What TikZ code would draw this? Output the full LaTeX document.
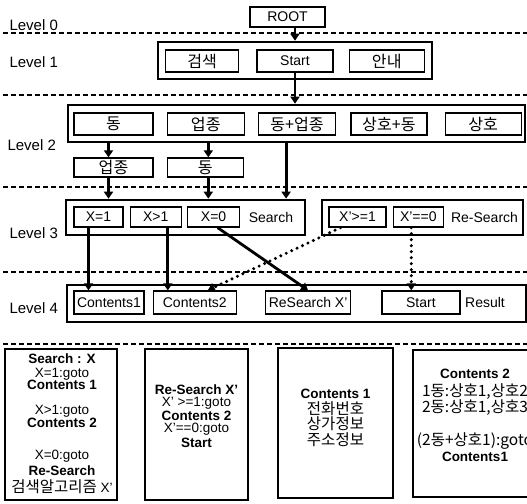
\documentclass[tikz,border=0pt]{standalone}
\usepackage{fontspec}
\setmainfont{Liberation Sans}
\newfontfamily\kr[Scale=1.15]{Noto Sans CJK KR}
\usetikzlibrary{positioning,arrows.meta}

\begin{document}
\begin{tikzpicture}[
  x=1pt,y=-1pt,
  >={Triangle[length=7pt,width=9pt]},
  every node/.style={font=\fontsize{14}{14}\selectfont},
  sep/.style={line width=1.1pt,dash pattern=on 5pt off 3pt},
  lvl/.style={anchor=west,font=\fontsize{15}{15}\selectfont},
  group/.style={draw,line width=2.6pt,inner sep=0pt},
  item/.style={draw,line width=1.3pt,inner sep=0pt,minimum height=22pt},
  memo/.style={draw,line width=1.5pt,inner sep=0pt},
  memotext/.style={align=center,inner sep=0pt,font=\fontsize{13.5}{13}\selectfont},
  flow/.style={->,line width=2.8pt},
  jump/.style={->,line width=3.4pt,line cap=round,dash pattern=on 0pt off 6pt}
]
  \useasboundingbox (0,0) rectangle (527,503);

  \draw[sep] (3,33) -- (527,33);
  \draw[sep] (3,95) -- (527,95);
  \draw[sep] (3,187) -- (527,187);
  \draw[sep] (3,272) -- (527,272);
  \draw[sep] (3,344) -- (527,344);

  \node[lvl] (lvzero) at (6,25) {Level 0};
  \node[lvl] (lvone) at (6,62) {Level 1};
  \node[lvl] (lvtwo) at (4,145) {Level 2};
  \node[lvl] (lvthree) at (6,233) {Level 3};
  \node[lvl] (lvfour) at (6,308) {Level 4};

  \node[item,minimum width=75pt,minimum height=20pt] (root) at (287.5,17) {ROOT};

  \node[group,minimum width=274pt,minimum height=37pt] (lv1) at (295,60.5) {};
  \node[item,minimum width=76pt] (start) at (295,61) {Start};
  \node[item,minimum width=73pt,left=17pt of start] (search) {\kr 검색};
  \node[item,minimum width=75pt,right=15pt of start] (guide) {\kr 안내};

  \node[group,minimum width=457pt,minimum height=37pt] (lv2) at (296.5,123.5) {};
  \node[item,minimum width=79pt] (dong) at (113.5,124) {\kr 동};
  \node[item,minimum width=77pt,right=13pt of dong] (upjong) {\kr 업종};
  \node[item,minimum width=77pt,right=13pt of upjong] (dongup) {\kr 동+업종};
  \node[item,minimum width=76pt,right=14pt of dongup] (sangdong) {\kr 상호+동};
  \node[item,minimum width=76pt,right=17pt of sangdong] (sangho) {\kr 상호};

  \node[item,minimum width=79pt,minimum height=19pt] (subup) at (113.5,167.5) {\kr 업종};
  \node[item,minimum width=76pt,minimum height=19pt,right=13pt of subup] (subdong) {\kr 동};

  \node[group,minimum width=239pt,minimum height=35pt] (lv3a) at (185.5,217.5) {};
  \node[item,minimum width=49pt,minimum height=20pt] (xone) at (98.5,217) {X=1};
  \node[item,minimum width=51pt,minimum height=20pt,right=6pt of xone] (xmore) {X>1};
  \node[item,minimum width=52pt,minimum height=20pt,right=5pt of xmore] (xzero) {X=0};
  \node (searchlab) at (271,217) {Search};

  \node[group,minimum width=201pt,minimum height=35pt] (lv3b) at (422.5,217.5) {};
  \node[item,minimum width=57pt,minimum height=20pt] (xrone) at (357.5,217) {X'>=1};
  \node[item,minimum width=50pt,minimum height=20pt,right=6pt of xrone] (xrzero) {X'==0};
  \node (researchlab) at (484.5,217) {Re-Search};

  \node[group,minimum width=459pt,minimum height=37pt] (lv4) at (296.5,303.5) {};
  \node[item,minimum width=70pt,minimum height=23pt] (cone) at (109,302.5) {Contents1};
  \node[item,minimum width=83pt,minimum height=23pt,right=8pt of cone] (ctwo) {Contents2};
  \node[item,minimum width=85pt,minimum height=23pt,right=28pt of ctwo] (resx) {ReSearch X'};
  \node[item,minimum width=78pt,minimum height=23pt,right=30pt of resx] (restart) {Start};
  \node (resultlab) at (485,302.5) {Result};

  \node[memo,minimum width=112pt,minimum height=151pt] (memoa) at (61,424.5) {};
  \node[memotext] (memoatext) at (62,423.5) {\textbf{Search : X}\\[1pt]X=1:goto\\[-1pt]\textbf{Contents 1}\\[12pt]X>1:goto\\[0pt]\textbf{Contents 2}\\[19pt]X=0:goto\\[3pt]\textbf{Re-Search}\\[4pt]{\kr 검색알고리즘} X'};
  \node[memo,minimum width=103pt,minimum height=151pt] (memob) at (196.5,424.5) {};
  \node[memotext] (memobtext) at (196.5,416.5) {\textbf{Re-Search X'}\\[-1pt]X' >=1:goto\\[1pt]\textbf{Contents 2}\\[-1pt]X'==0:goto\\[2pt]\textbf{Start}};
  \node[memo,minimum width=115pt,minimum height=150pt] (memoc) at (335.5,423) {};
  \node[memotext] (memoctext) at (335.5,417.5) {\textbf{Contents 1}\\[3pt]{\kr 전화번호}\\[0.5pt]{\kr 상가정보}\\[0.5pt]{\kr 주소정보}};
  \node[memo,minimum width=124pt,minimum height=147pt] (memod) at (475,423.5) {};
  \node[memotext] (memodtext) at (475,415) {\textbf{Contents 2}\\[5pt]{\kr 1동:상호1,상호2}\\{\kr 2동:상호1,상호3}\\[16pt]{\kr (2동+상호1):goto}\\[1pt]\textbf{Contents1}};

  \draw[flow] (root.south -| start) -- (lv1.north -| start);
  \draw[flow] (start.south) -- (start |- lv2.north);
  \draw[flow] ([xshift=-5pt]subup.north |- lv2.south) -- ([xshift=-5pt]subup.north);
  \draw[flow] ([xshift=-5pt]subup.south) -- ([xshift=-5pt]subup.south |- lv3a.north);
  \draw[flow] ([xshift=3pt]subdong.north |- lv2.south) -- ([xshift=3pt]subdong.north);
  \draw[flow] ([xshift=3pt]subdong.south) -- ([xshift=3pt]subdong.south |- lv3a.north);
  \draw[flow] ([xshift=-11pt]dongup.south |- lv2.south) -- ([xshift=-11pt]dongup.south |- lv3a.north);
  \draw[flow] ([xshift=-10pt]xone.south) -- ([xshift=-10pt]xone.south |- cone.north);
  \draw[flow] ([xshift=12pt]xmore.south) -- ([xshift=12pt]xmore.south |- ctwo.north);
  \draw[flow] ([xshift=4pt]xzero.south) -- (resx.north);
  \draw[jump] ([xshift=-17pt]xrone.south) -- ([xshift=13pt]ctwo.north);
  \draw[jump] ([xshift=-7pt]xrzero.south) -- ([xshift=-7pt]xrzero.south |- restart.north);
\end{tikzpicture}
\end{document}
